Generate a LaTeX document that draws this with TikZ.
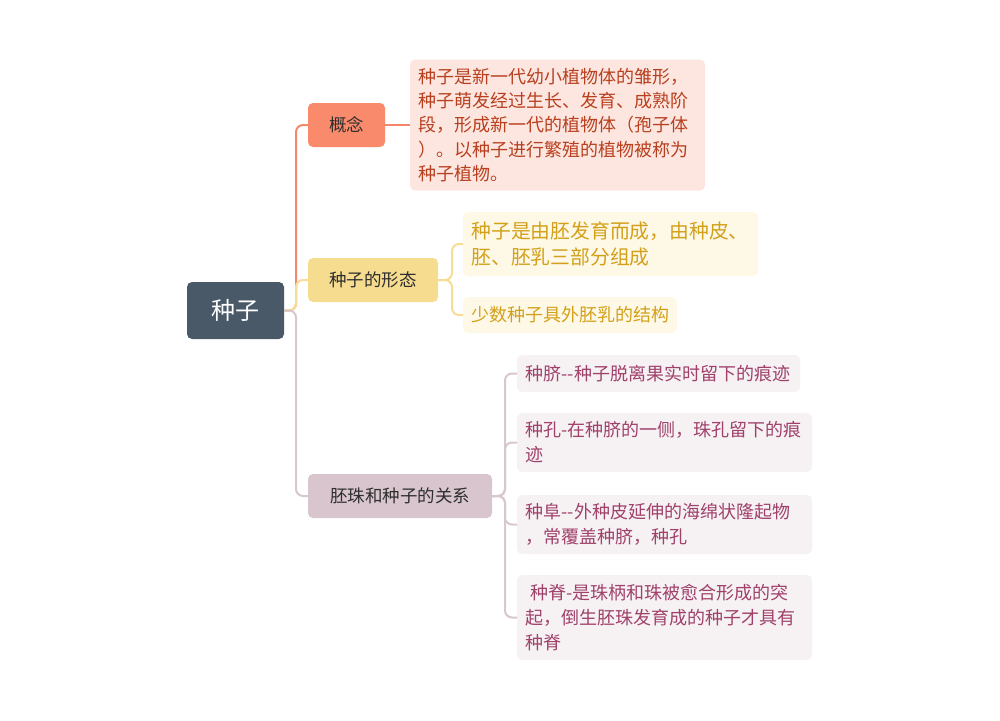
\documentclass[tikz,border=0pt]{standalone}
\usepackage{fontspec}
\newfontfamily\cjk{Noto Sans CJK SC}
\definecolor{rootfill}{HTML}{4A5968}
\definecolor{cfill}{HTML}{FA8A6C}
\definecolor{cline}{HTML}{F5886B}
\definecolor{cleaf}{HTML}{FDE6E0}
\definecolor{ctext}{HTML}{B8401F}
\definecolor{ffill}{HTML}{F6DC8E}
\definecolor{fline}{HTML}{F6DC95}
\definecolor{fleaf}{HTML}{FEF8E7}
\definecolor{ftext}{HTML}{D3A019}
\definecolor{rfill}{HTML}{D9C5CD}
\definecolor{rline}{HTML}{D8C7CE}
\definecolor{rleaf}{HTML}{F6F1F3}
\definecolor{rtext}{HTML}{A0416B}
\definecolor{dark}{HTML}{2E2E2E}
\newcommand{\dd}{-\kern0pt-}
\begin{document}
\begin{tikzpicture}[x=1pt,y=-1pt,
  every node/.style={inner sep=0pt, outer sep=0pt},
  boxbase/.style={rounded corners=5pt, draw=none},
  topic/.style={boxbase, align=center, text=dark, minimum height=44pt,
    font=\cjk\fontsize{17.5}{22}\selectfont},
  leafbox/.style={boxbase, align=left, font=\cjk\fontsize{18}{25}\selectfont},
  conn/.style={line width=2pt, rounded corners=7pt}
]
\useasboundingbox (0,0) rectangle (1000,720);

% root
\node[boxbase, fill=rootfill, text=white, minimum width=97pt, minimum height=57pt,
  font=\cjk\fontsize{24}{28}\selectfont] (root) at (235.5,310.5) {种子};

% topics
\node[topic, fill=cfill, minimum width=77pt] (concept) at (346.5,125) {概念};
\node[topic, fill=ffill, minimum width=130pt] (form) at (373,280) {种子的形态};
\node[topic, fill=rfill, minimum width=184pt] (rel) at (400,496) {胚珠和种子的关系};

% concept leaf
\node[leafbox, fill=cleaf, text=ctext, minimum width=295pt, minimum height=131pt,
  text width=278pt, font=\cjk\fontsize{18}{24.3}\selectfont] (cl) at (557.5,125)
  {种子是新一代幼小植物体的雏形，\\种子萌发经过生长、发育、成熟阶\\段，形成新一代的植物体（孢子体\\）。以种子进行繁殖的植物被称为\\种子植物。};

% form leaves
\node[leafbox, fill=fleaf, text=ftext, minimum width=295pt, minimum height=64pt,
  text width=278pt, font=\cjk\fontsize{19.8}{25.5}\selectfont] (f1) at (610.5,244)
  {种子是由胚发育而成，由种皮、\\胚、胚乳三部分组成};
\node[leafbox, fill=fleaf, text=ftext, minimum width=214pt, minimum height=36pt,
  text width=197pt, font=\cjk\fontsize{18}{24}\selectfont] (f2) at (570,315)
  {少数种子具外胚乳的结构};

% relation leaves
\node[leafbox, fill=rleaf, text=rtext, minimum width=283pt, minimum height=37pt,
  text width=266pt] (r1) at (658.5,373.5) {种脐\dd 种子脱离果实时留下的痕迹};
\node[leafbox, fill=rleaf, text=rtext, minimum width=295pt, minimum height=59pt,
  text width=278pt] (r2) at (664.5,442.5) {种孔-在种脐的一侧，珠孔留下的痕\\迹};
\node[leafbox, fill=rleaf, text=rtext, minimum width=295pt, minimum height=59pt,
  text width=278pt] (r3) at (664.5,524.5) {种阜\dd 外种皮延伸的海绵状隆起物\\，常覆盖种脐，种孔};
\node[leafbox, fill=rleaf, text=rtext, minimum width=295pt, minimum height=85pt,
  text width=278pt] (r4) at (664.5,617.5) {\hspace*{5pt}种脊-是珠柄和珠被愈合形成的突\\起，倒生胚珠发育成的种子才具有\\种脊};

% connectors root -> topics
\draw[conn, cline] (root.east) -- ([xshift=12pt]root.east) |- (concept.west);
\draw[conn, fline] (root.east) -- ([xshift=12pt]root.east) |- (form.west);
\draw[conn, rline] (root.east) -- ([xshift=12pt]root.east) |- (rel.west);

% concept -> leaf
\draw[conn, cline] (concept.east) -- (cl.west);

% form -> leaves
\draw[conn, fline] (form.east) -- ([xshift=14pt]form.east) |- (f1.west);
\draw[conn, fline] (form.east) -- ([xshift=14pt]form.east) |- (f2.west);

% relation -> leaves
\draw[conn, rline] (rel.east) -- ([xshift=13pt]rel.east) |- (r1.west);
\draw[conn, rline] (rel.east) -- ([xshift=13pt]rel.east) |- (r2.west);
\draw[conn, rline] (rel.east) -- ([xshift=13pt]rel.east) |- (r3.west);
\draw[conn, rline] (rel.east) -- ([xshift=13pt]rel.east) |- (r4.west);
\end{tikzpicture}
\end{document}
